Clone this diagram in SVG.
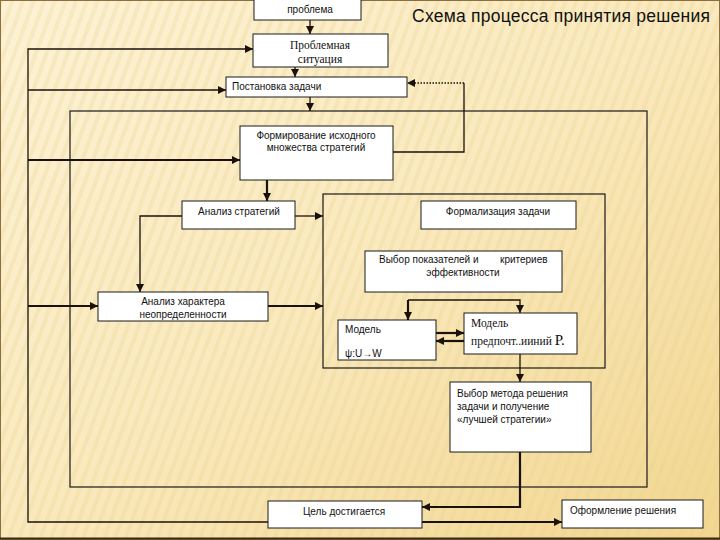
<svg xmlns="http://www.w3.org/2000/svg" width="720" height="540" viewBox="0 0 720 540">
<defs>
<linearGradient id="bg" x1="0" y1="0" x2="1" y2="1">
<stop offset="0" stop-color="#fcf2d4"/>
<stop offset="0.5" stop-color="#fae9bd"/>
<stop offset="1" stop-color="#f2d690"/>
</linearGradient>
<pattern id="stripes" width="10" height="10" patternUnits="userSpaceOnUse" patternTransform="rotate(20)">
<rect width="4" height="10" fill="#e9cf8a" opacity="0.25"/>
</pattern>
<marker id="ah" viewBox="0 0 10 10" refX="10" refY="5" markerWidth="8" markerHeight="8" markerUnits="userSpaceOnUse" orient="auto">
<path d="M0,0 L10,5 L0,10 z" fill="#1a120a"/>
</marker>
</defs>
<style>
.box{fill:#ffffff;stroke:#1a1a1a;stroke-width:1}
.frame{fill:none;stroke:#1a1a1a;stroke-width:1.2}
.ln{fill:none;stroke:#1a120a;stroke-width:1.3}
.thk{fill:none;stroke:#1a120a;stroke-width:2.2}
.dot{fill:none;stroke:#1a120a;stroke-width:1.5;stroke-dasharray:1.5 1.5}
.t{font-family:"Liberation Sans",Arial,sans-serif;font-size:10px;fill:#111}
.s{font-family:"Liberation Serif","Times New Roman",serif;fill:#111}
</style>
<rect width="720" height="540" fill="url(#bg)"/>
<rect width="720" height="540" fill="url(#stripes)"/>
<rect x="0.5" y="0.5" width="719" height="539" fill="none" stroke="#8a7040" stroke-width="1"/>
<line x1="0" y1="538.5" x2="720" y2="538.5" stroke="#3a2a10" stroke-width="2"/>

<text x="412" y="22" font-family="Liberation Sans,Arial,sans-serif" font-size="17.5" fill="#111" textLength="298">Схема процесса принятия решения</text>

<g id="frames">
<rect class="frame" x="70" y="111" width="577" height="376"/>
<rect class="frame" x="323" y="194" width="282" height="174"/>
</g>

<g id="connectors">
<path class="ln" d="M310,20 V34" marker-end="url(#ah)"/>
<path class="ln" d="M295,67 V77" marker-end="url(#ah)"/>
<path class="ln" d="M310,97 V111" marker-end="url(#ah)"/>
<path class="ln" d="M393,152 H464 V83"/>
<path class="dot" d="M464,83 H407" marker-end="url(#ah)"/>
<path class="ln" d="M268,522 H28 V49 H253" marker-end="url(#ah)"/>
<path class="ln" d="M28,90 H226" marker-end="url(#ah)"/>
<path class="thk" d="M28,160 H240" marker-end="url(#ah)"/>
<path class="thk" d="M28,306 H98" marker-end="url(#ah)"/>
<path class="thk" d="M267,180 V201" marker-end="url(#ah)"/>
<path class="ln" d="M295,216 H323" marker-end="url(#ah)"/>
<path class="ln" d="M182,216 H140 V292" marker-end="url(#ah)"/>
<path class="thk" d="M268,306 H323" marker-end="url(#ah)"/>
<path class="thk" d="M408,300 V320" marker-end="url(#ah)"/>
<path class="ln" d="M408,300 H520 V313" marker-end="url(#ah)"/>
<path class="thk" d="M436,333 H464" marker-end="url(#ah)"/>
<path class="thk" d="M464,341 H436" marker-end="url(#ah)"/>
<path class="ln" d="M520,354 V382" marker-end="url(#ah)"/>
<path class="thk" d="M520,452 V507 H422" marker-end="url(#ah)"/>
<path class="thk" d="M422,522 H562" marker-end="url(#ah)"/>
</g>

<g id="problema">
<rect class="box" x="254" y="-1" width="107" height="21"/>
<text class="t" x="310" y="13" text-anchor="middle">проблема</text>
</g>
<g id="situation">
<rect class="box" x="253" y="34" width="135" height="33"/>
<text class="s" font-size="11.5" x="320" y="49" text-anchor="middle">Проблемная</text>
<text class="s" font-size="11.5" x="320" y="63" text-anchor="middle">ситуация</text>
</g>
<g id="postanovka">
<rect class="box" x="226" y="77" width="181" height="20"/>
<text class="t" x="232" y="90">Постановка задачи</text>
</g>
<g id="formirovanie">
<rect class="box" x="240" y="126" width="153" height="54"/>
<text class="t" x="316" y="139" text-anchor="middle">Формирование исходного</text>
<text class="t" x="316" y="151" text-anchor="middle">множества стратегий</text>
</g>
<g id="analiz-strategiy">
<rect class="box" x="182" y="201" width="113" height="28"/>
<text class="t" x="239" y="215" text-anchor="middle">Анализ стратегий</text>
</g>
<g id="formalizaciya">
<rect class="box" x="421" y="201" width="155" height="28"/>
<text class="t" x="498" y="215" text-anchor="middle">Формализация задачи</text>
</g>
<g id="vybor-pokazateley">
<rect class="box" x="365" y="251" width="197" height="41"/>
<text class="t" x="379" y="263">Выбор показателей и</text>
<text class="t" x="500" y="263">критериев</text>
<text class="t" x="463" y="276" text-anchor="middle">эффективности</text>
</g>
<g id="analiz-haraktera">
<rect class="box" x="98" y="292" width="170" height="29"/>
<text class="t" x="183" y="305" text-anchor="middle">Анализ характера</text>
<text class="t" x="183" y="318" text-anchor="middle">неопределенности</text>
</g>
<g id="model">
<rect class="box" x="338" y="320" width="98" height="40"/>
<text class="t" x="345" y="333">Модель</text>
<text class="t" x="345" y="357">ψ:U→W</text>
</g>
<g id="model-pref">
<rect class="box" x="464" y="313" width="113" height="41"/>
<text class="s" font-size="11.5" x="471" y="327">Модель</text>
<text class="s" font-size="11.5" x="471" y="345">предпочт..ииний <tspan font-size="15">Р.</tspan></text>
</g>
<g id="vybor-metoda">
<rect class="box" x="450" y="382" width="141" height="70"/>
<text class="t" x="457" y="397">Выбор метода решения</text>
<text class="t" x="457" y="410">задачи и получение</text>
<text class="t" x="457" y="423">«лучшей стратегии»</text>
</g>
<g id="cel">
<rect class="box" x="268" y="501" width="154" height="27"/>
<text class="t" x="344" y="515" text-anchor="middle">Цель достигается</text>
</g>
<g id="oformlenie">
<rect class="box" x="562" y="500" width="141" height="28"/>
<text class="t" x="570" y="514">Оформление решения</text>
</g>
</svg>
